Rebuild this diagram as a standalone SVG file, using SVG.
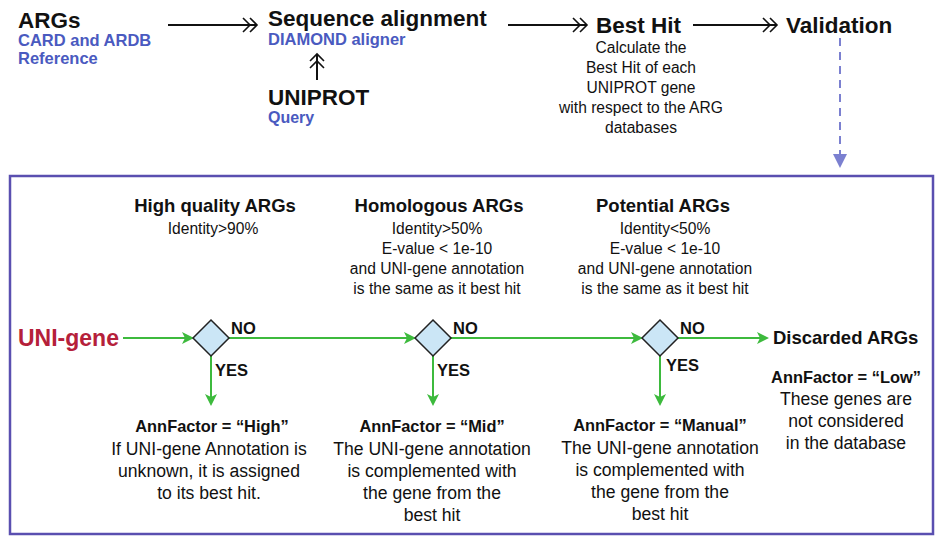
<svg xmlns="http://www.w3.org/2000/svg" width="943" height="541" viewBox="0 0 943 541">
<defs>
<style>
text{font-family:"Liberation Sans",Arial,sans-serif;}
.h{font-weight:bold;fill:#111;}
.b{font-weight:bold;fill:#4a5ac0;}
.d{font-size:15.6px;fill:#111;text-anchor:middle;}
.t{font-size:17.6px;fill:#111;text-anchor:middle;}
.af{font-size:16.4px;fill:#111;text-anchor:middle;font-weight:bold;}
.g{stroke:#3dba3d;stroke-width:2;fill:none;}
.k{stroke:#111;stroke-width:2;fill:none;}
.dia{fill:#cbe6f6;stroke:#222;stroke-width:1.5;}
.lbl{font-size:16.5px;font-weight:bold;fill:#111;}
.hd{font-size:18.5px;font-weight:bold;fill:#111;text-anchor:middle;}
</style>
<marker id="ga" markerWidth="12" markerHeight="12" refX="10" refY="6" orient="auto" markerUnits="userSpaceOnUse">
<path d="M0,0 L12,6 L0,12 L3,6 Z" fill="#3dba3d"/>
</marker>
<marker id="dc" markerWidth="18" markerHeight="16" refX="16" refY="8" orient="auto" markerUnits="userSpaceOnUse">
<path d="M2,1 L9,8 L2,15 M9,1 L16,8 L9,15" fill="none" stroke="#111" stroke-width="1.6"/>
</marker>
</defs>
<rect width="943" height="541" fill="#fff"/>

<g id="connectors">
<line class="k" x1="168" y1="25" x2="257" y2="25" marker-end="url(#dc)"/>
<line class="k" x1="317" y1="80" x2="317" y2="54" marker-end="url(#dc)"/>
<line class="k" x1="508" y1="25" x2="587" y2="25" marker-end="url(#dc)"/>
<line class="k" x1="693" y1="25" x2="777" y2="25" marker-end="url(#dc)"/>
<line x1="840" y1="38" x2="840" y2="156" stroke="#7b80d0" stroke-width="2" stroke-dasharray="8,6"/>
<path d="M833,154 L847,154 L840,168 Z" fill="#7b80d0"/>
<line class="g" x1="123" y1="338" x2="192" y2="338" marker-end="url(#ga)"/>
<line class="g" x1="229" y1="338" x2="414" y2="338" marker-end="url(#ga)"/>
<line class="g" x1="451" y1="338" x2="641" y2="338" marker-end="url(#ga)"/>
<line class="g" x1="678" y1="338" x2="767" y2="338" marker-end="url(#ga)"/>
<line class="g" x1="211" y1="356" x2="211" y2="404" marker-end="url(#ga)"/>
<line class="g" x1="433" y1="356" x2="433" y2="404" marker-end="url(#ga)"/>
<line class="g" x1="660" y1="356" x2="660" y2="404" marker-end="url(#ga)"/>
</g>

<g id="args">
<text x="18" y="28" class="h" font-size="22.5">ARGs</text>
<text x="18" y="46" class="b" font-size="16.5">CARD and ARDB</text>
<text x="18" y="64" class="b" font-size="16.5">Reference</text>
</g>
<g id="seqalign">
<text x="268" y="26" class="h" font-size="22.5">Sequence alignment</text>
<text x="268" y="45" class="b" font-size="16.5">DIAMOND aligner</text>
</g>
<g id="uniprot">
<text x="268" y="105" class="h" font-size="22.5">UNIPROT</text>
<text x="268" y="123" class="b" font-size="16">Query</text>
</g>
<g id="besthit">
<text x="596" y="33" class="h" font-size="22.5">Best Hit</text>
<text class="d" x="641" y="53">Calculate the</text>
<text class="d" x="641" y="73">Best Hit of each</text>
<text class="d" x="641" y="93">UNIPROT gene</text>
<text class="d" x="641" y="113">with respect to the ARG</text>
<text class="d" x="641" y="133">databases</text>
</g>
<g id="validation">
<text x="786" y="33" class="h" font-size="22.5">Validation</text>
</g>

<g id="box">
<rect x="10" y="176" width="923" height="358" fill="none" stroke="#5a4fb0" stroke-width="2.5"/>
</g>

<g id="high-header">
<text class="hd" x="215" y="212">High quality ARGs</text>
<text class="d" x="213" y="234">Identity&gt;90%</text>
</g>
<g id="homo-header">
<text class="hd" x="439" y="212">Homologous ARGs</text>
<text class="d" x="437" y="234">Identity&gt;50%</text>
<text class="d" x="437" y="254">E-value &lt; 1e-10</text>
<text class="d" x="437" y="274">and UNI-gene annotation</text>
<text class="d" x="437" y="294">is the same as it best hit</text>
</g>
<g id="pot-header">
<text class="hd" x="663" y="212">Potential ARGs</text>
<text class="d" x="665" y="234">Identity&lt;50%</text>
<text class="d" x="665" y="254">E-value &lt; 1e-10</text>
<text class="d" x="665" y="274">and UNI-gene annotation</text>
<text class="d" x="665" y="294">is the same as it best hit</text>
</g>

<g id="unigene">
<text x="18" y="346" font-size="23" font-weight="bold" fill="#b5203a">UNI-gene</text>
</g>

<g id="decision1">
<path class="dia" d="M211,320 L229,338 L211,356 L193,338 Z"/>
<text class="lbl" x="231" y="334">NO</text>
<text class="lbl" x="215" y="376">YES</text>
</g>
<g id="decision2">
<path class="dia" d="M433,320 L451,338 L433,356 L415,338 Z"/>
<text class="lbl" x="453" y="334">NO</text>
<text class="lbl" x="437" y="376">YES</text>
</g>
<g id="decision3">
<path class="dia" d="M660,320 L678,338 L660,356 L642,338 Z"/>
<text class="lbl" x="680" y="334">NO</text>
<text class="lbl" x="666" y="371">YES</text>
</g>

<g id="high">
<text class="af" x="212" y="432">AnnFactor = “High”</text>
<text class="t" x="209" y="455">If UNI-gene Annotation is</text>
<text class="t" x="209" y="477">unknown, it is assigned</text>
<text class="t" x="209" y="499">to its best hit.</text>
</g>
<g id="mid">
<text class="af" x="432" y="432">AnnFactor = “Mid”</text>
<text class="t" x="432" y="455">The UNI-gene annotation</text>
<text class="t" x="432" y="477">is complemented with</text>
<text class="t" x="432" y="499">the gene from the</text>
<text class="t" x="432" y="521">best hit</text>
</g>
<g id="manual">
<text class="af" x="660" y="431">AnnFactor = “Manual”</text>
<text class="t" x="660" y="454">The UNI-gene annotation</text>
<text class="t" x="660" y="476">is complemented with</text>
<text class="t" x="660" y="498">the gene from the</text>
<text class="t" x="660" y="520">best hit</text>
</g>
<g id="discarded">
<text x="773" y="344" class="h" font-size="18.5">Discarded ARGs</text>
<text class="af" x="846" y="383">AnnFactor = “Low”</text>
<text class="t" x="846" y="405">These genes are</text>
<text class="t" x="846" y="427">not considered</text>
<text class="t" x="846" y="449">in the database</text>
</g>
</svg>
